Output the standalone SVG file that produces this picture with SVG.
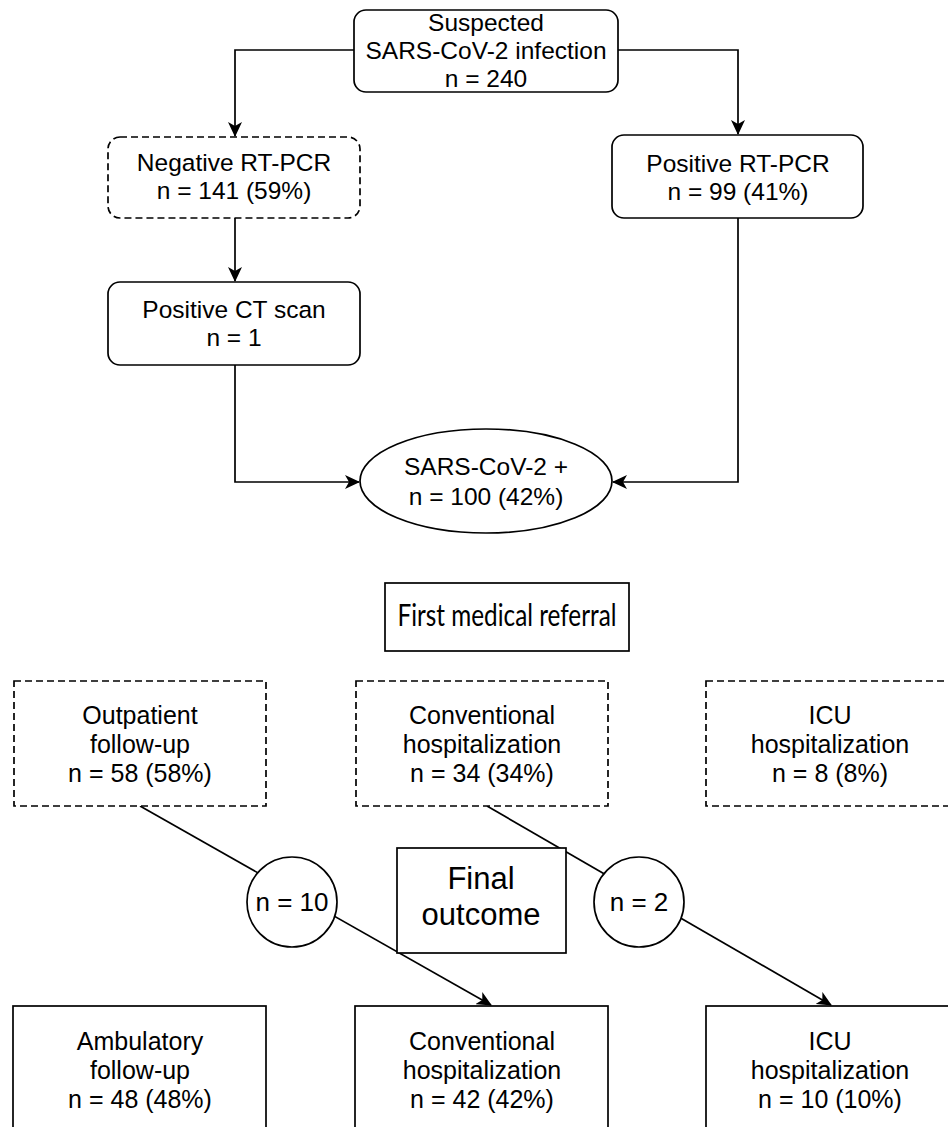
<svg xmlns="http://www.w3.org/2000/svg" width="948" height="1127" viewBox="0 0 948 1127">
<defs>
<marker id="arr" viewBox="0 0 15 14" refX="14" refY="7" markerWidth="15" markerHeight="14" markerUnits="userSpaceOnUse" orient="auto">
<path d="M0,0 L15,7 L0,14 L4,7 Z" fill="#000"/>
</marker>
<style>
.box{fill:#fff;stroke:#000;stroke-width:1.7}
.dash{fill:#fff;stroke:#000;stroke-width:1.7;stroke-dasharray:7 4}
.t{font-family:"Liberation Sans",Arial,sans-serif;font-size:24.5px;fill:#000;text-anchor:middle}
.t2{font-family:"Liberation Sans",Arial,sans-serif;font-size:25px;fill:#000;text-anchor:middle}
.edge{fill:none;stroke:#000;stroke-width:1.7}
</style>
</defs>
<rect width="948" height="1127" fill="#fff"/>
<g id="connectors">
<path class="edge" d="M354,50 H235 V136" marker-end="url(#arr)"/>
<path class="edge" d="M618,50 H738 V134" marker-end="url(#arr)"/>
<path class="edge" d="M235,218 V281" marker-end="url(#arr)"/>
<path class="edge" d="M235,365 V482 H359" marker-end="url(#arr)"/>
<path class="edge" d="M738,218 V482 H613" marker-end="url(#arr)"/>
<path class="edge" d="M140,806 L491,1005" marker-end="url(#arr)"/>
<path class="edge" d="M487,806 L831,1005" marker-end="url(#arr)"/>
</g>
<g id="suspected">
<rect class="box" x="354" y="10" width="264" height="82" rx="12"/>
<text class="t" x="486" y="31">Suspected</text>
<text class="t" x="486" y="59">SARS-CoV-2 infection</text>
<text class="t" x="486" y="87">n = 240</text>
</g>
<g id="negative">
<rect class="dash" x="108" y="137" width="252" height="81" rx="12"/>
<text class="t" x="234" y="171">Negative RT-PCR</text>
<text class="t" x="234" y="199">n = 141 (59%)</text>
</g>
<g id="positive">
<rect class="box" x="612" y="135" width="251" height="83" rx="12"/>
<text class="t" x="738" y="172">Positive RT-PCR</text>
<text class="t" x="738" y="200">n = 99 (41%)</text>
</g>
<g id="ctscan">
<rect class="box" x="108" y="282" width="252" height="83" rx="12"/>
<text class="t" x="234" y="318">Positive CT scan</text>
<text class="t" x="234" y="346">n = 1</text>
</g>
<g id="sarspos">
<ellipse class="box" cx="486" cy="481" rx="126" ry="52"/>
<text class="t" x="486" y="475">SARS-CoV-2 +</text>
<text class="t" x="486" y="505">n = 100 (42%)</text>
</g>
<g id="first-referral">
<rect class="box" x="385" y="583" width="244" height="68"/>
<text x="507" y="626" font-family="Lato,'Liberation Sans',sans-serif" font-size="31" text-anchor="middle" textLength="219" lengthAdjust="spacingAndGlyphs">First medical referral</text>
</g>
<g id="outpatient">
<rect class="dash" x="14" y="681" width="252" height="125"/>
<text class="t2" x="140" y="724">Outpatient</text>
<text class="t2" x="140" y="753">follow-up</text>
<text class="t2" x="140" y="782">n = 58 (58%)</text>
</g>
<g id="conv-hosp-1">
<rect class="dash" x="356" y="681" width="252" height="125"/>
<text class="t2" x="482" y="724">Conventional</text>
<text class="t2" x="482" y="753">hospitalization</text>
<text class="t2" x="482" y="782">n = 34 (34%)</text>
</g>
<g id="icu-hosp-1">
<rect class="dash" x="706" y="681" width="252" height="125"/>
<text class="t2" x="830" y="724">ICU</text>
<text class="t2" x="830" y="753">hospitalization</text>
<text class="t2" x="830" y="782">n = 8 (8%)</text>
</g>
<g id="final-outcome">
<rect class="box" x="397" y="848" width="169" height="105"/>
<text x="481" y="889" font-family="'Liberation Sans',Arial,sans-serif" font-size="31" text-anchor="middle">Final</text>
<text x="481" y="925" font-family="'Liberation Sans',Arial,sans-serif" font-size="31" text-anchor="middle">outcome</text>
</g>
<g id="n10">
<circle class="box" cx="292" cy="902" r="45"/>
<text x="292" y="911" font-family="'Liberation Sans',Arial,sans-serif" font-size="26" text-anchor="middle">n = 10</text>
</g>
<g id="n2">
<circle class="box" cx="639" cy="902" r="45"/>
<text x="639" y="911" font-family="'Liberation Sans',Arial,sans-serif" font-size="26" text-anchor="middle">n = 2</text>
</g>
<g id="ambulatory">
<rect class="box" x="13" y="1006" width="253" height="140"/>
<text class="t2" x="140" y="1050">Ambulatory</text>
<text class="t2" x="140" y="1079">follow-up</text>
<text class="t2" x="140" y="1108">n = 48  (48%)</text>
</g>
<g id="conv-hosp-2">
<rect class="box" x="355" y="1006" width="253" height="140"/>
<text class="t2" x="482" y="1050">Conventional</text>
<text class="t2" x="482" y="1079">hospitalization</text>
<text class="t2" x="482" y="1108">n = 42 (42%)</text>
</g>
<g id="icu-hosp-2">
<rect class="box" x="706" y="1006" width="253" height="140"/>
<text class="t2" x="830" y="1050">ICU</text>
<text class="t2" x="830" y="1079">hospitalization</text>
<text class="t2" x="830" y="1108">n = 10 (10%)</text>
</g>
</svg>
